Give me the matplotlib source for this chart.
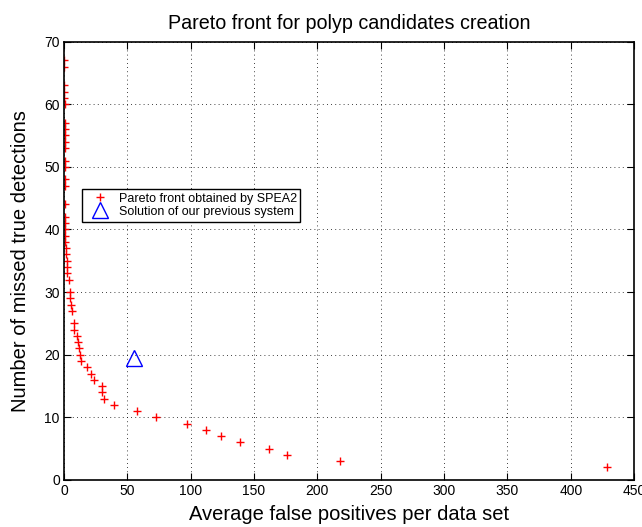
import matplotlib
matplotlib.use('Agg')
import matplotlib.pyplot as plt
import numpy as np

plt.rcParams['font.family'] = ['Liberation Sans', 'DejaVu Sans']

# Pareto front obtained by SPEA2: avg false positives per data set
front_fp = [0.2, 0.2, 0.3, 0.3, 0.3, 0.4,
            0.4, 0.4, 0.4, 0.5, 0.5, 0.5,
            0.6, 0.6, 0.6, 0.7, 0.7, 0.8,
            0.9, 1.0, 0.9, 1.6, 1.6, 2.4,
            2.4, 2.4, 3.9, 4.7, 4.7, 5.3,
            6.1, 7.9, 8.1, 10.0, 10.8, 11.8,
            12.9, 13.4, 18.4, 21.3, 23.9, 29.8,
            29.8, 31.8, 39.5, 57.4, 72.4, 97.3,
            111.8, 124.0, 139.0, 161.8, 176.3, 217.9,
            428.4]
# ... and number of missed true detections
front_missed = [67, 66, 63, 62, 61, 60,
                57, 56, 55, 54, 53, 51,
                50, 48, 47, 44, 42, 41,
                40, 39, 38, 37, 36, 35,
                34, 33, 32, 30, 29, 28,
                27, 25, 24, 23, 22, 21,
                20, 19, 18, 17, 16, 15,
                14, 13, 12, 11, 10, 9,
                8, 7, 6, 5, 4, 3,
                2]

# solution of the previous system
prev_fp = [55.5]
prev_missed = [19.4]

fig = plt.figure(figsize=(6.42, 5.27), dpi=100)
ax = fig.add_axes([0.0997, 0.0892, 0.888, 0.832])

ax.plot(front_fp, front_missed, '+', color='red', markersize=5.5, mew=1.0,
        label='Pareto front obtained by SPEA2')
ax.plot(prev_fp, prev_missed, '^', color='blue', markersize=12, mfc='none',
        mew=1.0, label='Solution of our previous system')

ax.set_xlim(0, 450)
ax.set_ylim(0, 70)
ax.set_xticks(np.arange(0, 451, 50))
ax.set_yticks(np.arange(0, 71, 10))
ax.grid(True, linestyle=(0, (1, 4)), color='black', linewidth=0.6)
ax.tick_params(direction='in', top=True, right=True, labelsize=10, length=5, pad=3)
for s in ax.spines.values():
    s.set_linewidth(1.2)

ax.set_title('Pareto front for polyp candidates creation', fontsize=14.2, pad=9)
ax.set_xlabel('Average false positives per data set', fontsize=14.5, labelpad=5)
ax.set_ylabel('Number of missed true detections', fontsize=14.5, labelpad=10)

leg = ax.legend(loc='upper left', bbox_to_anchor=(0.032, 0.664), fontsize=9,
                fancybox=False, edgecolor='black', framealpha=1,
                handlelength=2.2, handletextpad=0.4, borderpad=0.3,
                labelspacing=0.1, borderaxespad=0)
leg.get_frame().set_linewidth(1.0)

fig.savefig('out.png', dpi=100)
